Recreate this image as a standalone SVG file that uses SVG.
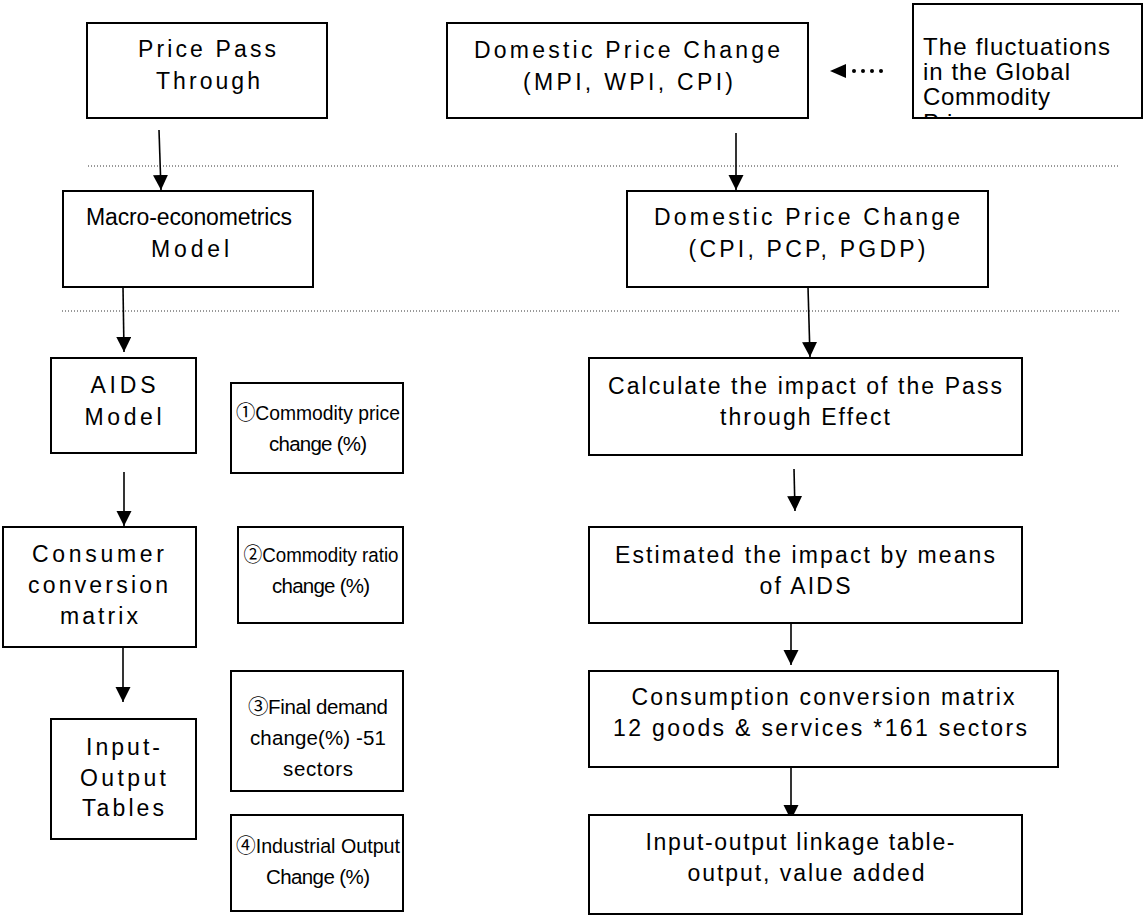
<svg xmlns="http://www.w3.org/2000/svg" width="1145" height="916" viewBox="0 0 1145 916">
<defs>
<style>
.box{fill:#fff;stroke:#000;stroke-width:2}
.t{font-family:"Liberation Sans",Arial,"Noto Sans CJK KR",sans-serif;font-size:23px;fill:#000;text-anchor:middle}
.s{font-family:"Liberation Sans",Arial,"Noto Sans CJK KR",sans-serif;font-size:20.5px;fill:#000;text-anchor:middle}
.tl{font-family:"Liberation Sans",Arial,sans-serif;font-size:24px;fill:#000}
.c{stroke:#000;stroke-width:1.6;fill:none}
.sep{stroke:#333;stroke-width:1;stroke-dasharray:1 2;fill:none}
.dot{fill:#000}
</style>
<marker id="ah" markerUnits="userSpaceOnUse" markerWidth="16" markerHeight="16" refX="15" refY="7.5" orient="auto">
<path d="M0,0 L15,7.5 L0,15 z" fill="#000"/>
</marker>
<clipPath id="clipF"><rect x="913" y="4" width="229" height="114"/></clipPath>
</defs>

<g id="separators">
<line class="sep" x1="88" y1="166" x2="1120" y2="166"/>
<line class="sep" x1="62" y1="311" x2="1120" y2="311"/>
</g>

<g id="connectors">
<line class="c" x1="159" y1="130" x2="161" y2="190" marker-end="url(#ah)"/>
<line class="c" x1="736" y1="133" x2="736" y2="190" marker-end="url(#ah)"/>
<path d="M830,71 L846,64 L846,78 z" fill="#000"/>
<circle class="dot" cx="854" cy="71" r="2"/>
<circle class="dot" cx="863" cy="71" r="2"/>
<circle class="dot" cx="872" cy="71" r="2"/>
<circle class="dot" cx="881" cy="71" r="2"/>
<line class="c" x1="123" y1="287" x2="124" y2="352" marker-end="url(#ah)"/>
<line class="c" x1="808" y1="287" x2="810" y2="357" marker-end="url(#ah)"/>
<line class="c" x1="124" y1="472" x2="124" y2="526" marker-end="url(#ah)"/>
<line class="c" x1="123" y1="647" x2="123" y2="702" marker-end="url(#ah)"/>
<line class="c" x1="794" y1="469" x2="795" y2="511" marker-end="url(#ah)"/>
<line class="c" x1="791" y1="623" x2="791" y2="665" marker-end="url(#ah)"/>
<line class="c" x1="791" y1="767" x2="791" y2="820" marker-end="url(#ah)"/>
</g>

<g id="pricePass">
<rect class="box" x="87" y="23" width="240" height="95"/>
<text class="t" x="207" y="57" textLength="138" lengthAdjust="spacing">Price Pass</text>
<text class="t" x="208" y="89" textLength="104" lengthAdjust="spacing">Through</text>
</g>

<g id="domestic1">
<rect class="box" x="447" y="23" width="361" height="95"/>
<text class="t" x="627" y="58" textLength="306" lengthAdjust="spacing">Domestic Price Change</text>
<text class="t" x="628" y="90" textLength="210" lengthAdjust="spacing">(MPI, WPI, CPI)</text>
</g>

<g id="fluctuations">
<rect class="box" x="913" y="4" width="229" height="114"/>
<g clip-path="url(#clipF)">
<text class="tl" x="923" y="55" textLength="187" lengthAdjust="spacing">The fluctuations</text>
<text class="tl" x="923" y="80" textLength="147" lengthAdjust="spacing">in the Global</text>
<text class="tl" x="923" y="105" textLength="127" lengthAdjust="spacing">Commodity</text>
<text class="tl" x="923" y="131">Price</text>
</g>
</g>

<g id="macro">
<rect class="box" x="63" y="191" width="250" height="96"/>
<text class="t" x="189" y="225" textLength="206" lengthAdjust="spacing">Macro-econometrics</text>
<text class="t" x="190" y="257" textLength="78" lengthAdjust="spacing">Model</text>
</g>

<g id="domestic2">
<rect class="box" x="627" y="191" width="361" height="96"/>
<text class="t" x="807" y="225" textLength="306" lengthAdjust="spacing">Domestic Price Change</text>
<text class="t" x="807" y="257" textLength="237" lengthAdjust="spacing">(CPI, PCP, PGDP)</text>
</g>

<g id="aids">
<rect class="box" x="51" y="358" width="145" height="95"/>
<text class="t" x="123" y="393" textLength="65" lengthAdjust="spacing">AIDS</text>
<text class="t" x="123" y="425" textLength="77" lengthAdjust="spacing">Model</text>
</g>

<g id="step1">
<rect class="box" x="231" y="383" width="172" height="90"/>
<text class="s" x="318" y="420" textLength="164" lengthAdjust="spacingAndGlyphs">①Commodity price</text>
<text class="s" x="318" y="451" textLength="98" lengthAdjust="spacing">change (%)</text>
</g>

<g id="calculate">
<rect class="box" x="589" y="358" width="433" height="97"/>
<text class="t" x="805" y="394" textLength="394" lengthAdjust="spacing">Calculate the impact of the Pass</text>
<text class="t" x="805" y="425" textLength="170" lengthAdjust="spacing">through Effect</text>
</g>

<g id="consumer">
<rect class="box" x="3" y="527" width="193" height="120"/>
<text class="t" x="98" y="562" textLength="132" lengthAdjust="spacing">Consumer</text>
<text class="t" x="98" y="593" textLength="140" lengthAdjust="spacing">conversion</text>
<text class="t" x="99" y="624" textLength="78" lengthAdjust="spacing">matrix</text>
</g>

<g id="step2">
<rect class="box" x="238" y="527" width="165" height="96"/>
<text class="s" x="321" y="562" textLength="155" lengthAdjust="spacingAndGlyphs">②Commodity ratio</text>
<text class="s" x="321" y="593" textLength="98" lengthAdjust="spacing">change (%)</text>
</g>

<g id="estimated">
<rect class="box" x="589" y="527" width="433" height="96"/>
<text class="t" x="805" y="563" textLength="380" lengthAdjust="spacing">Estimated the impact by means</text>
<text class="t" x="805" y="594" textLength="91" lengthAdjust="spacing">of AIDS</text>
</g>

<g id="inputOutput">
<rect class="box" x="51" y="719" width="145" height="120"/>
<text class="t" x="123" y="755" textLength="74" lengthAdjust="spacing">Input-</text>
<text class="t" x="123" y="786" textLength="86" lengthAdjust="spacing">Output</text>
<text class="t" x="123" y="816" textLength="82" lengthAdjust="spacing">Tables</text>
</g>

<g id="step3">
<rect class="box" x="231" y="671" width="172" height="120"/>
<text class="s" x="318" y="714" textLength="140" lengthAdjust="spacing">③Final demand</text>
<text class="s" x="318" y="745" textLength="136" lengthAdjust="spacing">change(%) -51</text>
<text class="s" x="318" y="776" textLength="70" lengthAdjust="spacing">sectors</text>
</g>

<g id="consumption">
<rect class="box" x="589" y="671" width="469" height="96"/>
<text class="t" x="823" y="705" textLength="383" lengthAdjust="spacing">Consumption conversion matrix</text>
<text class="t" x="820" y="736" textLength="414" lengthAdjust="spacing">12 goods &amp; services *161 sectors</text>
</g>

<g id="step4">
<rect class="box" x="231" y="815" width="172" height="96"/>
<text class="s" x="318" y="853" textLength="164" lengthAdjust="spacingAndGlyphs">④Industrial Output</text>
<text class="s" x="318" y="884" textLength="104" lengthAdjust="spacing">Change (%)</text>
</g>

<g id="linkage">
<rect class="box" x="589" y="815" width="433" height="99"/>
<text class="t" x="800" y="850" textLength="309" lengthAdjust="spacing">Input-output linkage table-</text>
<text class="t" x="806" y="881" textLength="237" lengthAdjust="spacing">output, value added</text>
</g>
</svg>
